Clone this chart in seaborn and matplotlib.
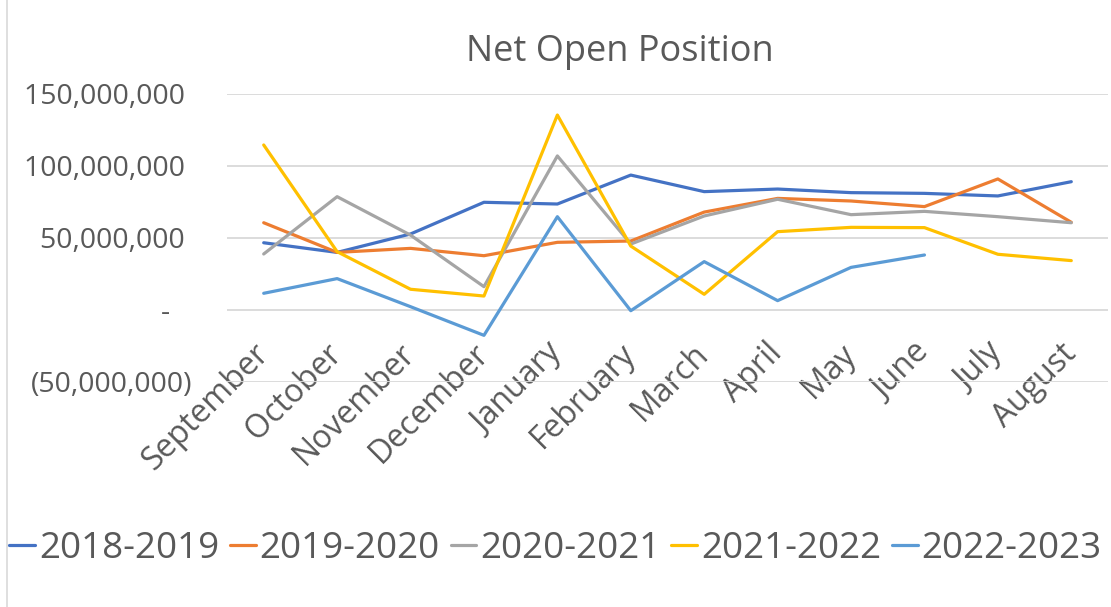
import numpy as np
import pandas as pd
import matplotlib.pyplot as plt
import matplotlib.ticker as mticker
from matplotlib.lines import Line2D
import seaborn as sns

months = ['September', 'October', 'November', 'December', 'January', 'February',
          'March', 'April', 'May', 'June', 'July', 'August']
seasons = ['2018-2019', '2019-2020', '2020-2021', '2021-2022', '2022-2023']

# values in millions
s2018 = [46.7, 40.0, 52.8, 74.8, 73.6, 93.7, 82.2, 84.0, 81.5, 81.0, 79.2, 89.1]
s2019 = [60.6, 40.0, 42.8, 37.7, 47.0, 47.9, 68.0, 77.5, 75.7, 71.8, 91.0, 60.9]
s2020 = [38.9, 78.7, 52.0, 16.2, 107.0, 45.8, 65.3, 76.9, 66.2, 68.5, 64.8, 60.6]
s2021 = [114.6, 40.5, 14.4, 9.7, 135.4, 44.4, 10.9, 54.4, 57.4, 57.2, 38.7, 34.3]
s2022 = [11.6, 21.8, 2.3, -17.6, 64.8, -0.5, 33.6, 6.5, 29.6, 38.2, np.nan, np.nan]

colors = ['#4472C4', '#ED7D31', '#A5A5A5', '#FFC000', '#5B9BD5']
text_col = '#595959'

rows = []
for season, vals in zip(seasons, [s2018, s2019, s2020, s2021, s2022]):
    for m, v in zip(months, vals):
        rows.append({'month': m, 'season': season, 'value': v * 1e6})
df = pd.DataFrame(rows).dropna()

sns.set_style('white')
plt.rcParams['font.family'] = ['Open Sans', 'DejaVu Sans']
plt.rcParams['text.color'] = text_col

fig = plt.figure(figsize=(11.11, 6.07), dpi=100)
ax = fig.add_axes([227 / 1111, 1 - 382 / 607, 881 / 1111, 288 / 607])

sns.lineplot(data=df, x='month', y='value', hue='season', hue_order=seasons,
             palette=colors, linewidth=2.3, ax=ax, legend=False, sort=False)

ax.set_xlim(-0.5, 11.5)
ax.set_ylim(-50e6, 150e6)
ax.set_yticks([-50e6, 0, 50e6, 100e6, 150e6])
ax.grid(axis='y', color='#D9D9D9', linewidth=1.3)
ax.set_axisbelow(True)
for sp in ax.spines.values():
    sp.set_visible(False)


def acct(v, pos):
    # accounting style: dash for zero, brackets for negatives
    if v == 0:
        return '-   '
    if v < 0:
        return f'({-v:,.0f})'
    return f'{v:,.0f} '


ax.yaxis.set_major_formatter(mticker.FuncFormatter(acct))
ax.tick_params(axis='y', length=0, pad=25, labelsize=20.5, labelcolor=text_col)
ax.tick_params(axis='x', length=0, pad=-24, labelsize=23, labelcolor=text_col)
plt.setp(ax.get_xticklabels(), rotation=45, ha='right', va='center',
         rotation_mode='anchor')
ax.set_xlabel('')
ax.set_ylabel('')

fig.text(620 / 1111, 1 - 52 / 607, 'Net Open Position', ha='center', va='center',
         fontsize=26, color=text_col)

handles = [Line2D([0], [0], color=c, linewidth=2.3) for c in colors]
fig.legend(handles, seasons, loc='center', bbox_to_anchor=(0.5, 1 - 549 / 607),
           ncol=5, frameon=False, fontsize=26.5, handlelength=0.7,
           handletextpad=0.1, columnspacing=0.3, borderpad=0, labelcolor=text_col)

fig.add_artist(Line2D([0.006, 0.006], [0, 1], color='#D9D9D9', linewidth=1.2))

fig.savefig('out.png', dpi=100)
